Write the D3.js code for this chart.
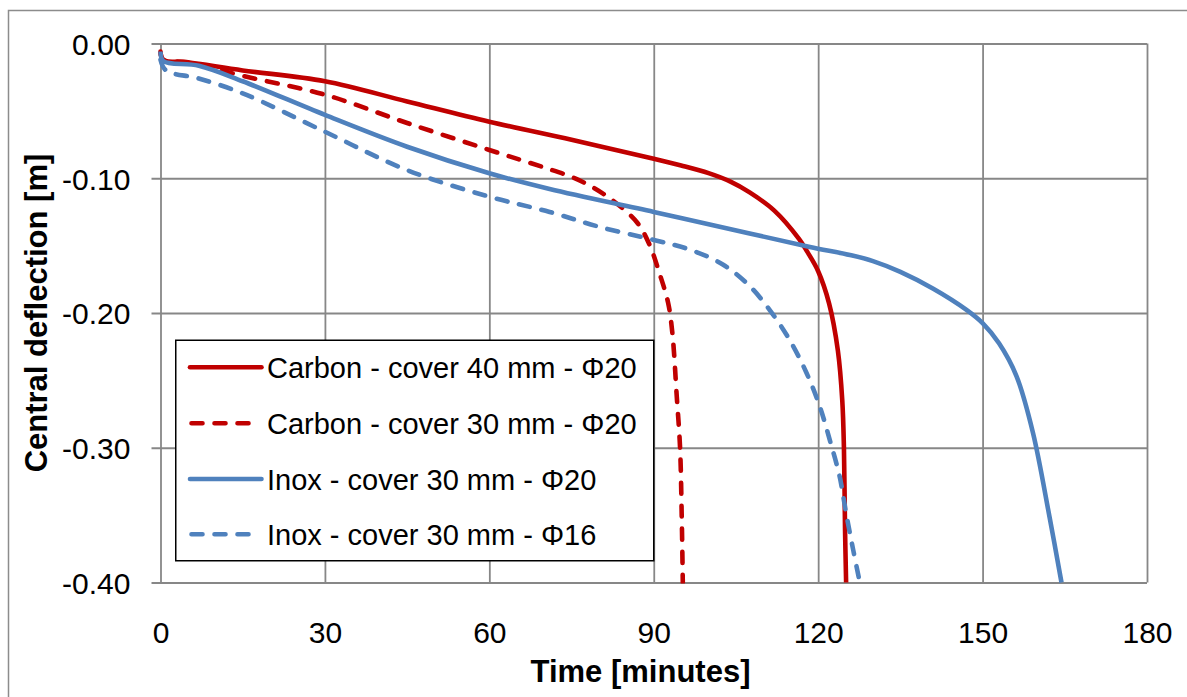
<!DOCTYPE html>
<html>
<head>
<meta charset="utf-8">
<script src="https://cdn.jsdelivr.net/npm/d3@7"></script>
<style>
  html, body { margin: 0; padding: 0; background: #fff; }
  svg { display: block; }
  text { font-family: Arial, "Liberation Sans", sans-serif; fill: #000; }
</style>
</head>
<body>
<svg id="chart" width="1187" height="697"></svg>
<script>
// ---- data (time [min], central deflection [m]) ----
const carbon40Time = [0, 0.5, 5, 15, 30, 45, 60, 75, 90, 95, 100, 104, 107.5, 112, 116.5, 118, 120, 122, 123.6, 124.4, 124.7, 124.9, 125.1];
const carbon40Defl = [-0.006, -0.012, -0.014, -0.020, -0.028, -0.043, -0.058, -0.0715, -0.0855, -0.0905, -0.0962, -0.1025, -0.1105, -0.124, -0.145, -0.1545, -0.169, -0.193, -0.228, -0.265, -0.300, -0.360, -0.400];

const carbon30Time = [0, 0.5, 5, 15, 30, 45, 60, 70, 75, 79, 83, 87, 89.3, 91, 92.6, 93.4, 94.2, 94.8, 95.1, 95.3];
const carbon30Defl = [-0.006, -0.012, -0.014, -0.024, -0.038, -0.059, -0.079, -0.092, -0.099, -0.107, -0.118, -0.133, -0.150, -0.170, -0.192, -0.215, -0.262, -0.300, -0.350, -0.400];

const inox20Time = [0, 0.5, 7, 15, 30, 45, 60, 71, 90, 107.5, 118.5, 125.8, 130, 135, 141, 147, 150, 153, 156.2, 159.2, 162.2, 164.4];
const inox20Defl = [-0.006, -0.013, -0.0165, -0.028, -0.053, -0.0766, -0.0963, -0.108, -0.125, -0.141, -0.151, -0.157, -0.1615, -0.1695, -0.182, -0.1975, -0.2075, -0.2225, -0.247, -0.289, -0.351, -0.400];

const inox16Time = [0, 1, 7, 15, 30, 45, 60, 71, 80, 90, 96.6, 102.6, 107.5, 111.2, 114.8, 117.9, 120.3, 122.1, 123.9, 125.1, 126.4, 127.6];
const inox16Defl = [-0.012, -0.020, -0.026, -0.037, -0.0655, -0.094, -0.1137, -0.125, -0.136, -0.1458, -0.153, -0.164, -0.180, -0.198, -0.220, -0.2447, -0.2695, -0.294, -0.321, -0.3486, -0.376, -0.400];

const seriesNames = [
  "Carbon - cover 40 mm - \u03A620",
  "Carbon - cover 30 mm - \u03A620",
  "Inox - cover 30 mm - \u03A620",
  "Inox - cover 30 mm - \u03A616"
];

const xTicks = [0, 30, 60, 90, 120, 150, 180];
const yTicks = [0, -0.10, -0.20, -0.30, -0.40];
const xTitle = "Time [minutes]";
const yTitle = "Central deflection [m]";

// ---- styling ----
const RED = "#C00000", BLUE = "#4F81BD", GRID = "#878787";
const series = [
  { name: seriesNames[0], t: carbon40Time, v: carbon40Defl, color: RED, dash: null },
  { name: seriesNames[1], t: carbon30Time, v: carbon30Defl, color: RED, dash: "11,12" },
  { name: seriesNames[2], t: inox20Time, v: inox20Defl, color: BLUE, dash: null },
  { name: seriesNames[3], t: inox16Time, v: inox16Defl, color: BLUE, dash: "11,12" }
];

const svg = d3.select("#chart");
const L = 160.5, R = 1147, T = 43.5, B = 582.5;

// outer chart border
svg.append("rect").attr("x", 8.5).attr("y", 10.5).attr("width", 1200).attr("height", 700)
  .attr("fill", "none").attr("stroke", "#8c8c8c").attr("stroke-width", 1.5);

const x = d3.scaleLinear().domain([0, 180]).range([L, R]);
const y = d3.scaleLinear().domain([0, -0.4]).range([T, B]);

// gridlines
const gV = svg.append("g").attr("transform", `translate(0,${B})`)
  .call(d3.axisBottom(x).tickValues(xTicks).tickSize(-(B - T)).tickFormat(""));
gV.select(".domain").remove();
gV.selectAll("line").attr("stroke", GRID).attr("stroke-width", 1.8);

const gH = svg.append("g").attr("transform", `translate(${R},0)`)
  .call(d3.axisLeft(y).tickValues(yTicks).tickSize(R - L + 9).tickFormat(""));
gH.select(".domain").remove();
gH.selectAll("line").attr("stroke", GRID).attr("stroke-width", 1.8);

// y tick labels
const gY = svg.append("g").attr("transform", `translate(${L},0)`)
  .call(d3.axisLeft(y).tickValues(yTicks).tickSize(0).tickPadding(30)
    .tickFormat(d => d.toFixed(2)));
gY.select(".domain").remove();
gY.selectAll("text").attr("font-size", 30).attr("dy", "0.36em")
  .style("font-family", "Arial, 'Liberation Sans', sans-serif").attr("fill", "#000");

// x tick labels
const gX = svg.append("g").attr("transform", `translate(0,${B})`)
  .call(d3.axisBottom(x).tickValues(xTicks).tickSize(0).tickPadding(0).tickFormat(d => String(d)));
gX.select(".domain").remove();
gX.selectAll("text").attr("font-size", 30).attr("dy", null).attr("y", 60)
  .style("font-family", "Arial, 'Liberation Sans', sans-serif").attr("fill", "#000");

// axis titles
svg.append("text").attr("x", 640.5).attr("y", 682).attr("text-anchor", "middle")
  .attr("font-size", 31).attr("font-weight", "bold").text(xTitle);
svg.append("text").attr("transform", `translate(47,${(T + B) / 2}) rotate(-90)`)
  .attr("text-anchor", "middle").attr("font-size", 31).attr("font-weight", "bold").text(yTitle);

// clip
svg.append("clipPath").attr("id", "plotclip").append("rect")
  .attr("x", L - 6).attr("y", T - 10).attr("width", R - L + 12).attr("height", B - T + 11);

const line = d3.line().x(d => x(d[0])).y(d => y(d[1])).curve(d3.curveCatmullRom.alpha(0.5));
const gLines = svg.append("g").attr("clip-path", "url(#plotclip)");
series.forEach(s => {
  const pts = s.t.map((t, i) => [t, s.v[i]]);
  gLines.append("path").datum(pts).attr("d", line)
    .attr("fill", "none").attr("stroke", s.color).attr("stroke-width", 4.6)
    .attr("stroke-linecap", s.dash ? "round" : "butt")
    .attr("stroke-linejoin", "round")
    .attr("stroke-dasharray", s.dash);
});

// legend
const lg = svg.append("g");
lg.append("rect").attr("x", 175.75).attr("y", 340.25).attr("width", 478).attr("height", 220.5)
  .attr("fill", "#fff").attr("stroke", "#000").attr("stroke-width", 1.5);
const rowY = [367.3, 423.3, 479, 534.3];
series.forEach((s, i) => {
  lg.append("line").attr("x1", s.dash ? 191.5 : 190).attr("x2", s.dash ? 259.5 : 261.5)
    .attr("y1", rowY[i]).attr("y2", rowY[i])
    .attr("stroke", s.color).attr("stroke-width", 4.6)
    .attr("stroke-linecap", "round").attr("stroke-dasharray", s.dash);
  lg.append("text").attr("x", 267).attr("y", rowY[i] + 10.6)
    .attr("font-size", 29).text(s.name);
});
</script>
</body>
</html>
